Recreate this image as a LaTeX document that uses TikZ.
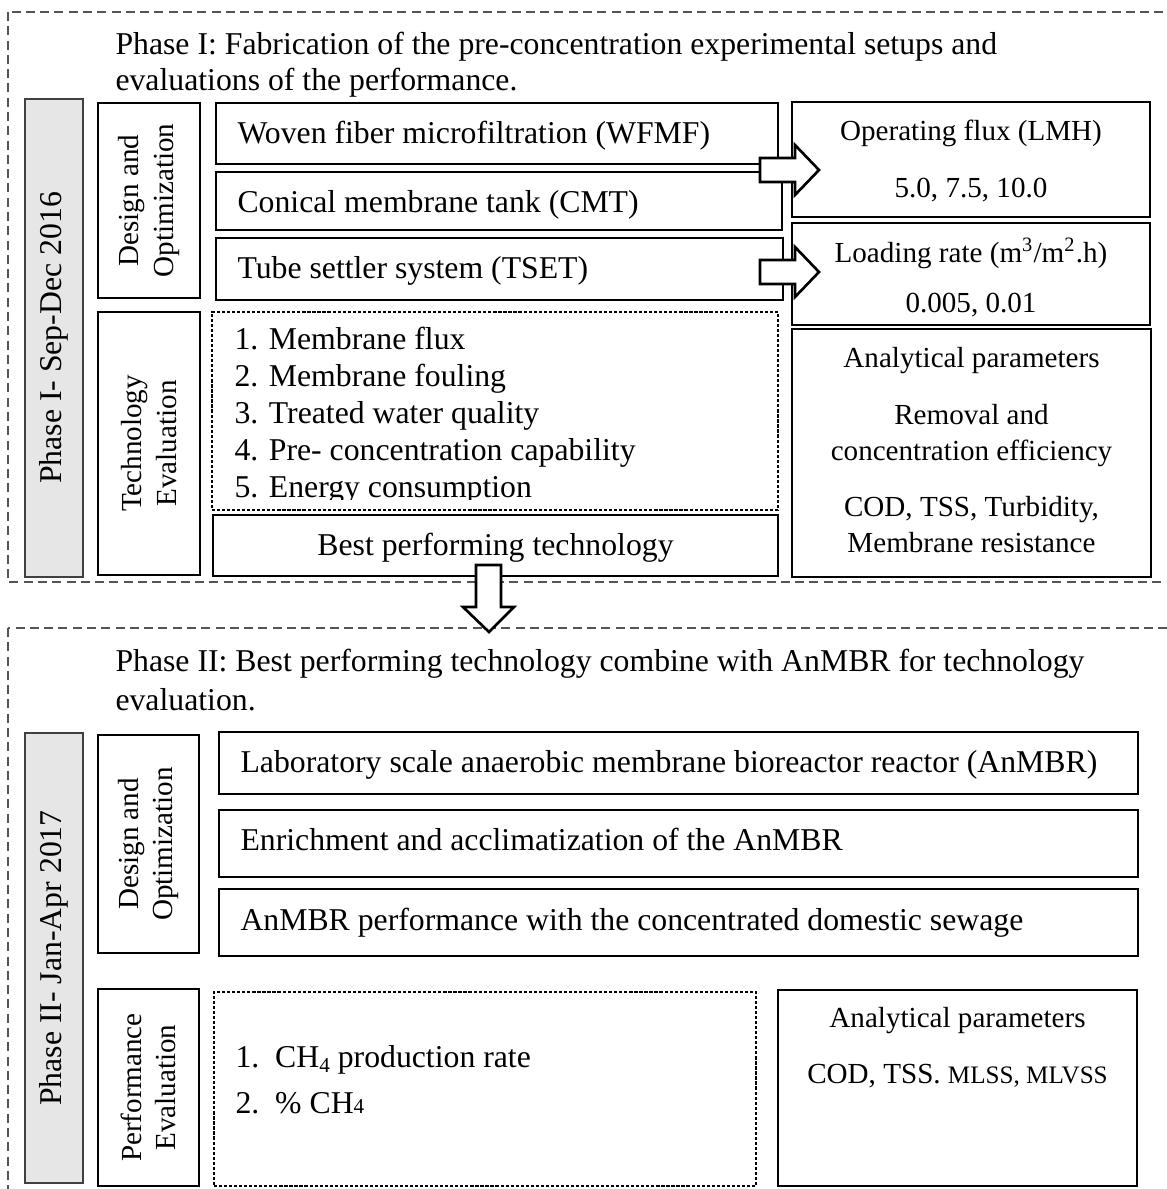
\documentclass[tikz,border=0pt]{standalone}
\usepackage{fontspec}
\setmainfont{Liberation Serif}
\usetikzlibrary{positioning, calc}
\definecolor{phasegray}{RGB}{230,230,230}
\definecolor{framegray}{RGB}{85,85,85}
\newcommand{\pxu}{0.378pt}

\tikzset{
  sz/.style 2 args={minimum width=#1*\pxu, minimum height=#2*\pxu},
  phaseframe/.style={draw=framegray, line width=0.6pt, dash pattern=on 3.4pt off 2pt},
  greybox/.style={draw=black!75, line width=0.8pt, fill=phasegray, inner sep=0pt, rotate=90,
    font=\fontsize{12}{14}\selectfont},
  sidebox/.style={draw, line width=0.7pt, inner sep=0pt, rotate=90, align=center,
    font=\fontsize{11}{13}\selectfont},
  procbox/.style={draw, line width=1.1pt, inner sep=0pt},
  resultbox/.style={draw, line width=0.7pt, inner sep=0pt},
  listbox/.style={draw, line width=0.5pt, dash pattern=on 1.2pt off 0.7pt, inner sep=0pt},
  txt/.style={inner sep=0pt, anchor=base west, align=left, font=\fontsize{12}{13.9}\selectfont},
  rtxt/.style={inner sep=0pt, anchor=base, align=center, font=\fontsize{11}{13.6}\selectfont},
  fatarrow/.style={draw, line width=1pt, fill=white, line join=miter}
}

\begin{document}
\begin{tikzpicture}[x=\pxu, y=-\pxu]
  \clip (0,0) rectangle (1167,1189);

  % dashed phase frames
  \draw[phaseframe] (8,12) rectangle (1180,582);
  \draw[phaseframe] (8,628) rectangle (1180,1200);

  % Phase I (multi-line texts sit on their last baseline)
  \node[txt, font=\fontsize{12}{13.3}\selectfont] (head1) at (115,90) {Phase I: Fabrication of the pre-concentration experimental setups and\\evaluations of the performance.};

  \node[greybox, sz={478}{58}] (ph1) at (54,338) {Phase I- Sep-Dec 2016};
  \node[sidebox, sz={195}{102}] (des1) at (149,200.5) {Design and\\Optimization};
  \node[sidebox, sz={263}{102}] (tech1) at (149,443.5) {Technology\\Evaluation};

  \node[procbox, sz={562}{61}] (wfmf) at (497,133.5) {};
  \node[procbox, sz={566}{58}] (cmt) at (499,201) {};
  \node[procbox, sz={567}{62}] (tset) at (499.5,269) {};
  \node[txt] (wfmft) at (237,143) {Woven fiber microfiltration (WFMF)};
  \node[txt] (cmtt) at (237,212) {Conical membrane tank (CMT)};
  \node[txt] (tsett) at (237,278) {Tube settler system (TSET)};

  \node[listbox, sz={566}{198}] (crit1) at (495,411) {};
  \begin{scope}
    \clip (212,312) rectangle (778,499);
    \node[txt] (crit1t) at (234,497) {1. Membrane flux\\2. Membrane fouling\\3. Treated water quality\\4. Pre- concentration capability\\5. Energy consumption};
  \end{scope}

  \node[procbox, sz={565}{61}] (best) at (495.5,545.5) {};
  \node[rtxt, font=\fontsize{12}{14}\selectfont] (bestt) at (495.5,555) {Best performing technology};

  \node[resultbox, sz={358}{115}] (flux) at (971,159.5) {};
  \node[rtxt] (fluxt) at (971,140) {Operating flux (LMH)};
  \node[rtxt] (fluxv) at (971,197) {5.0, 7.5, 10.0};

  \node[resultbox, sz={358}{102}] (load) at (971,274) {};
  \node[rtxt] (loadt) at (971,262) {Loading rate (m\textsuperscript{3}/m\textsuperscript{2}.h)};
  \node[rtxt] (loadv) at (971,312) {0.005, 0.01};

  \node[resultbox, sz={359}{248}] (anal1) at (971.5,453) {};
  \node[rtxt] (anal1a) at (971.5,367) {Analytical parameters};
  \node[rtxt] (anal1b) at (971.5,460) {Removal and\\concentration efficiency};
  \node[rtxt] (anal1c) at (971.5,552) {COD, TSS, Turbidity,\\Membrane resistance};

  % block arrows
  \coordinate (a1) at (819,170);
  \coordinate (a2) at (819,272);
  \coordinate (a3) at (489,632);
  \draw[fatarrow] (a1) -- ++(-24,-25) -- ++(0,13) -- ++(-35,0) -- ++(0,24) -- ++(35,0) -- ++(0,13) -- cycle;
  \draw[fatarrow] (a2) -- ++(-24,-25) -- ++(0,13) -- ++(-35,0) -- ++(0,24) -- ++(35,0) -- ++(0,13) -- cycle;
  \draw[fatarrow] (a3) -- ++(-26,-25) -- ++(13,0) -- ++(0,-42) -- ++(25,0) -- ++(0,42) -- ++(13,0) -- cycle;

  % Phase II
  \node[txt, font=\fontsize{12}{14.4}\selectfont] (head2) at (115,710) {Phase II: Best performing technology combine with AnMBR for technology\\evaluation.};

  \node[greybox, sz={450}{58}] (ph2) at (54,958) {Phase II- Jan-Apr 2017};
  \node[sidebox, sz={218}{101}] (des2) at (148.5,844) {Design and\\Optimization};
  \node[sidebox, sz={197}{101}] (perf2) at (148.5,1087.5) {Performance\\Evaluation};

  \node[procbox, sz={919}{62}] (lab) at (678.5,763) {};
  \node[procbox, sz={919}{67}] (enr) at (678.5,843.5) {};
  \node[procbox, sz={919}{67}] (anmbr) at (678.5,922.5) {};
  \node[txt] (labt) at (240,772) {Laboratory scale anaerobic membrane bioreactor reactor (AnMBR)};
  \node[txt] (enrt) at (240,850) {Enrichment and acclimatization of the AnMBR};
  \node[txt] (anmbrt) at (240,930) {AnMBR performance with the concentrated domestic sewage};

  \node[listbox, sz={542}{194}] (crit2) at (485,1089) {};
  \node[txt] (crit2a) at (235,1067) {1.\ \ CH\raisebox{-0.4ex}{\fontsize{8}{9}\selectfont 4} production rate};
  \node[txt] (crit2b) at (235,1113) {2.\ \ \% CH{\fontsize{8}{9}\selectfont 4}};

  \node[resultbox, sz={359}{196}] (anal2) at (957.5,1088) {};
  \node[rtxt] (anal2a) at (957.5,1027) {Analytical parameters};
  \node[rtxt] (anal2b) at (957.5,1083) {COD, TSS. {\fontsize{9.5}{11}\selectfont MLSS, MLVSS}};
\end{tikzpicture}
\end{document}
